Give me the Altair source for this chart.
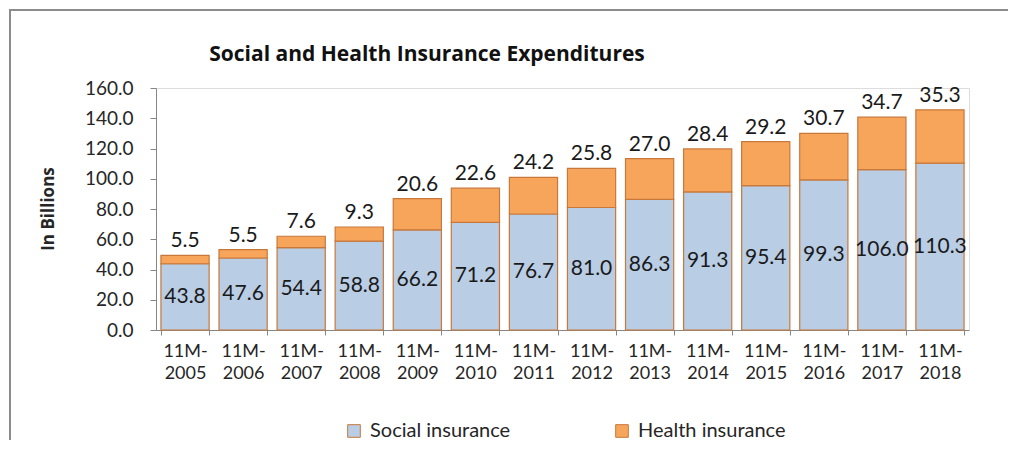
import altair as alt
import pandas as pd

# ---- data ----
periods = ["11M- 2005", "11M- 2006", "11M- 2007", "11M- 2008", "11M- 2009", "11M- 2010", "11M- 2011",
           "11M- 2012", "11M- 2013", "11M- 2014", "11M- 2015", "11M- 2016", "11M- 2017", "11M- 2018"]
social = [43.8, 47.6, 54.4, 58.8, 66.2, 71.2, 76.7, 81.0, 86.3, 91.3, 95.4, 99.3, 106.0, 110.3]
health = [5.5, 5.5, 7.6, 9.3, 20.6, 22.6, 24.2, 25.8, 27.0, 28.4, 29.2, 30.7, 34.7, 35.3]
series = ["Social insurance", "Health insurance"]
y_ticks = [0, 20, 40, 60, 80, 100, 120, 140, 160]
chart_title = "Social and Health Insurance Expenditures"
y_title = "In Billions"

rows = []
for p, s, h in zip(periods, social, health):
    rows.append({"period": p, "series": series[0], "value": s, "ord": 0})
    rows.append({"period": p, "series": series[1], "value": h, "ord": 1})
df = pd.DataFrame(rows)

FONT = "Lato"
TXT = "#1a1a1a"
AXC = "#868686"
STROKE = "#c8783a"
COLORS = ["#b9cde5", "#f8a55c"]

x_enc = alt.X(
    "period:N", sort=periods,
    scale=alt.Scale(paddingInner=0.17, paddingOuter=0.085),
    axis=alt.Axis(title=None, labelExpr="split(datum.label, ' ')", tickBand="extent",
                  labelAngle=0, labelFont=FONT, labelFontSize=18, labelColor="#262626",
                  labelLineHeight=22, labelPadding=7, tickSize=5, tickColor=AXC,
                  domainColor=AXC, labelBaseline="top"),
)

y_axis = alt.Axis(title=None, values=y_ticks, format=".1f", labelFont=FONT, labelFontSize=19,
                  labelColor="#262626", tickSize=6, tickColor=AXC, domainColor=AXC,
                  labelPadding=17, grid=False)
y_scale = alt.Scale(domain=[0, 160], nice=False)

base = alt.Chart(df)

bars = base.mark_bar(stroke=STROKE, strokeWidth=1.2).encode(
    x=x_enc,
    y=alt.Y("value:Q", stack="zero", scale=y_scale, axis=y_axis),
    color=alt.Color("series:N", scale=alt.Scale(domain=series, range=COLORS),
                    legend=alt.Legend(orient="none", legendX=188, legendY=333, direction="horizontal",
                                      title=None, symbolType="square", symbolSize=160,
                                      symbolStrokeColor=STROKE, symbolStrokeWidth=1,
                                      labelFont=FONT, labelFontSize=20, labelColor="#262626",
                                      labelOffset=6, columnPadding=101)),
    order=alt.Order("ord:Q", sort="ascending"),
)

social_labels = base.transform_filter(alt.datum.series == series[0]).transform_calculate(
    mid="datum.value / 2"
).mark_text(font=FONT, fontSize=21, color=TXT, baseline="middle").encode(
    x=x_enc,
    y=alt.Y("mid:Q", stack=None, scale=y_scale, axis=y_axis),
    text=alt.Text("value:Q", format=".1f"),
)

health_labels = base.transform_joinaggregate(
    total="sum(value)", groupby=["period"]
).transform_filter(alt.datum.series == series[1]).mark_text(
    font=FONT, fontSize=21, color=TXT, baseline="bottom", dy=-4
).encode(
    x=x_enc,
    y=alt.Y("total:Q", stack=None, scale=y_scale, axis=y_axis),
    text=alt.Text("value:Q", format=".1f"),
)

frame_df = pd.DataFrame({"title": [chart_title], "ytitle": [y_title]})
frame = alt.Chart(frame_df).mark_rect(filled=False, stroke="#8c8c8c", strokeWidth=2).encode(
    x=alt.value(-146), x2=alt.value(920), y=alt.value(-78), y2=alt.value(500)
)
title_mark = alt.Chart(frame_df).mark_text(
    font="Open Sans", fontSize=21, fontWeight="bold", color="#111111", baseline="middle", align="center"
).encode(x=alt.value(271), y=alt.value(-33), text="title:N")
ytitle_mark = alt.Chart(frame_df).mark_text(
    font="Open Sans", fontSize=17, fontWeight="bold", color="#262626", baseline="middle", align="center",
    angle=270
).encode(x=alt.value(-107), y=alt.value(121), text="ytitle:N")

chart = alt.layer(frame, bars, social_labels, health_labels, title_mark, ytitle_mark).properties(
    width=813, height=242,
    padding={"left": 148, "top": 80, "right": 39, "bottom": 110},
    autosize=alt.AutoSizeParams(type="none"),
).configure_view(stroke=None).configure(background="white")

chart.save("out.html", embed_options={"renderer": "svg", "actions": False})
